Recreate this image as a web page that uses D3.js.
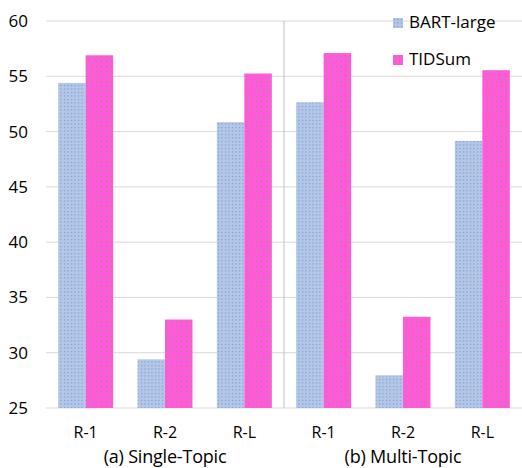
<!DOCTYPE html>
<html><head><meta charset="utf-8">
<script src="https://cdn.jsdelivr.net/npm/d3@7"></script>
<style>body{margin:0;background:#fff}</style>
</head><body>
<svg id="chart" width="522" height="468"></svg>
<script>
const panels = ["(a) Single-Topic", "(b) Multi-Topic"];
const metrics = ["R-1", "R-2", "R-L"];
const series = ["BART-large", "TIDSum"];
const bartValues = [54.4, 29.4, 50.85, 52.65, 27.95, 49.15];
const tidsumValues = [56.9, 33.0, 55.25, 57.1, 33.25, 55.55];
const yTicks = [25, 30, 35, 40, 45, 50, 55, 60];

(function () {
const svg = d3.select("#chart");
const font = "'Open Sans', 'Noto Sans', sans-serif";
const mLeft = 46, mRight = 522, mTop = 21, mBottom = 408;

const defs = svg.append("defs");
function dotPattern(id, bg, dot, size) {
  const p = defs.append("pattern").attr("id", id).attr("patternUnits", "userSpaceOnUse")
    .attr("width", size).attr("height", size);
  p.append("rect").attr("width", size).attr("height", size).attr("fill", bg);
  p.append("rect").attr("x", 1).attr("y", 1).attr("width", 1).attr("height", 1).attr("fill", dot);
}
dotPattern("pBart", "#b4c7e7", "#5b86cf", 3.5);
dotPattern("pTid", "#ff5bd8", "#6fa86a", 5);

const groups = [];
panels.forEach((p, pi) => metrics.forEach((m, mi) => groups.push({panel: pi, metric: m, idx: pi * 3 + mi})));

const x = d3.scaleBand().domain(groups.map(g => g.idx)).range([mLeft, mRight]).paddingInner(0).paddingOuter(0);
const xs = d3.scaleBand().domain(series).range([0, 55]);
const y = d3.scaleLinear().domain([25, 60]).range([mBottom, mTop]);

svg.append("g").selectAll("line").data(yTicks).join("line")
  .attr("x1", mLeft).attr("x2", mRight)
  .attr("y1", d => y(d)).attr("y2", d => y(d))
  .attr("stroke", "#d9d9d9").attr("stroke-width", 1);

svg.append("g").selectAll("text").data(yTicks).join("text")
  .attr("x", 28).attr("y", d => y(d)).attr("dy", "0.35em")
  .attr("text-anchor", "end").attr("font-family", font).attr("font-size", 17).attr("fill", "#000")
  .text(d => d);

const sepX = x(3);
svg.append("line").attr("x1", sepX).attr("x2", sepX).attr("y1", mTop).attr("y2", mBottom)
  .attr("stroke", "#bfbfbf").attr("stroke-width", 1);

const bars = [];
groups.forEach(g => {
  bars.push({g, s: series[0], v: bartValues[g.idx]});
  bars.push({g, s: series[1], v: tidsumValues[g.idx]});
});

svg.append("g").selectAll("rect").data(bars).join("rect")
  .attr("x", d => x(d.g.idx) + (x.bandwidth() - 55) / 2 + xs(d.s))
  .attr("width", xs.bandwidth())
  .attr("y", d => y(d.v))
  .attr("height", d => y(25) - y(d.v))
  .attr("fill", d => d.s === series[0] ? "url(#pBart)" : "url(#pTid)");

svg.append("g").selectAll("text").data(groups).join("text")
  .attr("x", d => x(d.idx) + x.bandwidth() / 2).attr("y", 438)
  .attr("text-anchor", "middle").attr("font-family", font).attr("font-size", 16).attr("fill", "#000")
  .text(d => d.metric);

svg.append("g").selectAll("text").data(panels).join("text")
  .attr("x", (d, i) => x(i * 3 + 1) + x.bandwidth() / 2).attr("y", 463)
  .attr("text-anchor", "middle").attr("font-family", font).attr("font-size", 18)
  .attr("letter-spacing", "-0.2").attr("fill", "#000")
  .text(d => d);

const leg = svg.append("g").selectAll("g").data(series).join("g")
  .attr("transform", (d, i) => `translate(393, ${18 + i * 37})`);
leg.append("rect").attr("width", 10).attr("height", 10)
  .attr("fill", (d, i) => i === 0 ? "url(#pBart)" : "url(#pTid)");
leg.append("text").attr("x", 16).attr("y", 9.5).attr("font-family", font).attr("font-size", 17)
  .attr("fill", "#000").text(d => d);
})();
</script>
</body></html>
